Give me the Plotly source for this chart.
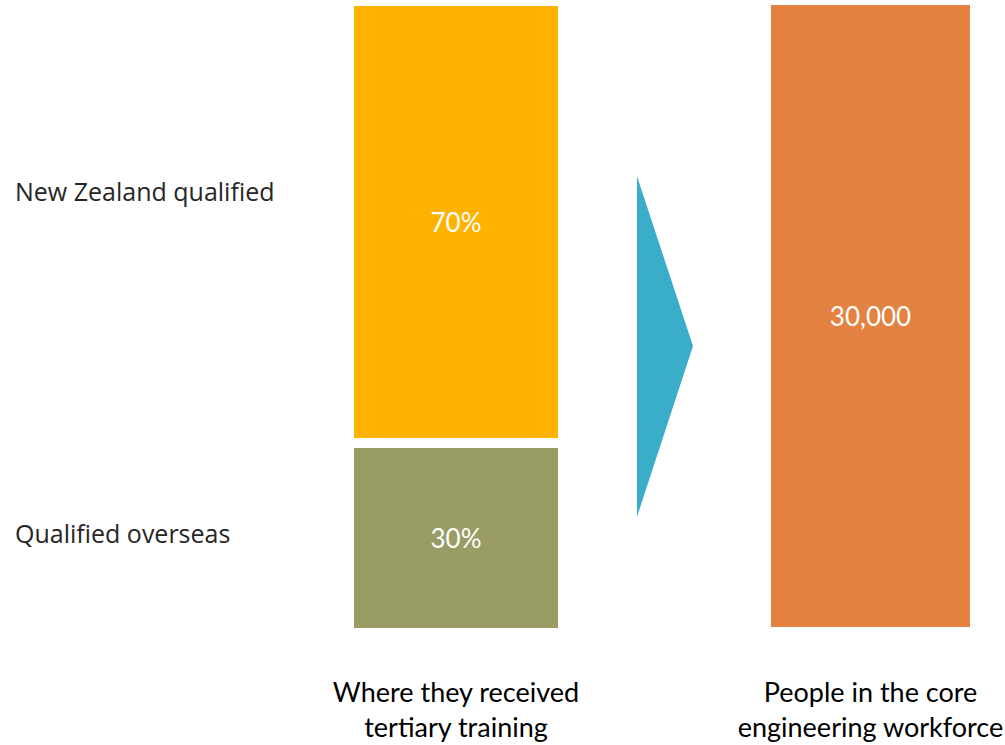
import plotly.graph_objects as go

# ---- data ----
categories = ["Where they received<br>tertiary training", "People in the core<br>engineering workforce"]
segment_names = ["Qualified overseas", "New Zealand qualified"]
segment_share = [30, 70]           # percent of workforce
segment_labels = ["30%", "70%"]
workforce_total = [30000]
workforce_label = ["30,000"]

# ---- styling ----
FONT = "Lato"
C_OVERSEAS = "#999C64"
C_NZ = "#FFB200"
C_WORK = "#E38241"
C_ARROW = "#3AADC9"

fig = go.Figure()

# stacked left bar (bottom first)
fig.add_trace(go.Bar(
    x=[0], y=[segment_share[0]], name=segment_names[0],
    marker=dict(color=C_OVERSEAS, line=dict(color="white", width=10)),
    width=1.0326, text=[segment_labels[0]], textposition="inside",
    insidetextanchor="middle",
    textfont=dict(family=FONT, size=26, color="white"), hoverinfo="skip",
))
fig.add_trace(go.Bar(
    x=[0], y=[segment_share[1]], name=segment_names[1],
    marker=dict(color=C_NZ, line=dict(color="white", width=10)),
    width=1.0326, text=[segment_labels[1]], textposition="inside",
    insidetextanchor="middle",
    textfont=dict(family=FONT, size=26, color="white"), hoverinfo="skip",
))
# workforce bar on secondary axis
fig.add_trace(go.Bar(
    x=[2], y=workforce_total, name="Workforce", yaxis="y2",
    marker=dict(color=C_WORK, line=dict(width=0)),
    width=0.960, text=workforce_label, textposition="inside",
    insidetextanchor="middle",
    textfont=dict(family=FONT, size=26, color="white"), hoverinfo="skip",
))

# arrow between bars (decorative shape)
fig.add_shape(type="path",
              path="M 0.873 72.31 L 1.1436 45.41 L 0.873 18.35 Z",
              xref="x", yref="y", fillcolor=C_ARROW, line=dict(width=0))

# left-side series labels
label_y = [15.82, 69.94]
for name, yv in zip(segment_names, label_y):
    fig.add_annotation(x=13/1005, xref="paper", y=yv, yref="y",
                       text=name, showarrow=False, xanchor="left", yanchor="middle",
                       font=dict(family="Open Sans", size=25, color="#262626"))

fig.update_layout(
    width=1005, height=745,
    margin=dict(l=0, r=0, t=0, b=105),
    paper_bgcolor="white", plot_bgcolor="white",
    barmode="stack", showlegend=False,
    xaxis=dict(range=[-2.2002, 2.649], tickvals=[0, 2], ticktext=categories,
               showgrid=False, zeroline=False, showline=False, ticks="",
               ticklabelstandoff=34,
               tickfont=dict(family=FONT, size=27, color="black")),
    yaxis=dict(range=[-1.108, 100.158], visible=False),
    yaxis2=dict(range=[-627, 30241], overlaying="y", visible=False),
)

fig.write_html("out.html")
